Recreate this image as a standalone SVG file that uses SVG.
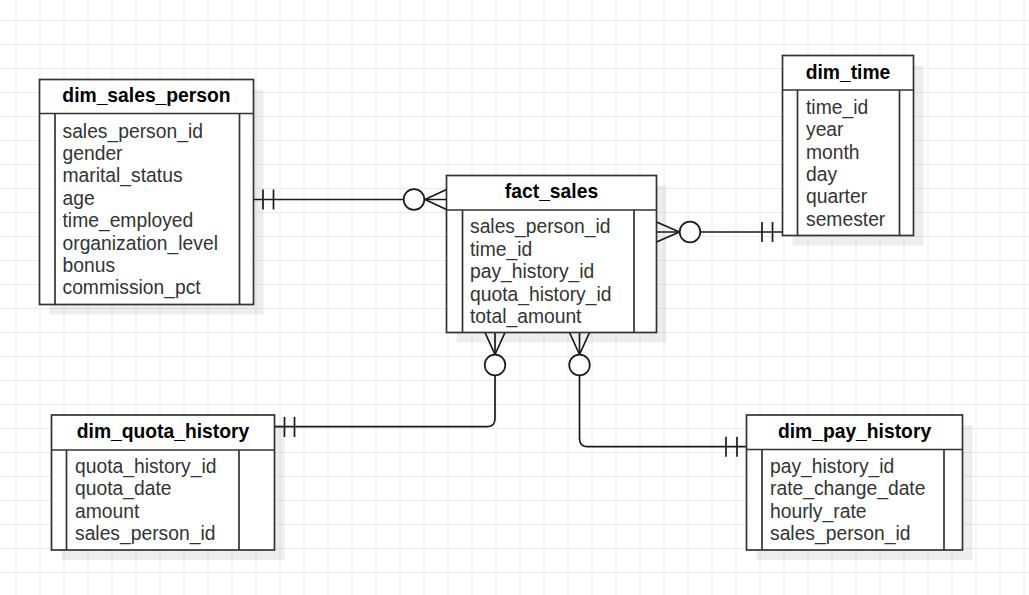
<svg xmlns="http://www.w3.org/2000/svg" width="1029" height="595" viewBox="0 0 1029 595">
<style>
.shadow{fill:#000;fill-opacity:0.065;stroke:none}
.box{fill:#fff;stroke:#333;stroke-width:1.7}
.ln{fill:none;stroke:#333;stroke-width:1.7}
.title{font-family:"Liberation Sans",Arial,sans-serif;font-size:19.3px;font-weight:bold;fill:#000;text-anchor:middle}
.row{font-family:"Liberation Sans",Arial,sans-serif;font-size:19.3px;fill:#333}
.con{fill:none;stroke:#1a1a1a;stroke-width:1.7}
.circ{fill:#fff;stroke:#1a1a1a;stroke-width:1.7}
</style>
<defs>
<pattern id="grid" patternUnits="userSpaceOnUse" x="15.5" y="20" width="24" height="24">
<path d="M0 0.5H24M0.5 0V24" stroke="#ededed" stroke-width="1" fill="none"/>
</pattern>
</defs>
<rect width="1029" height="595" fill="#fff"/>
<rect width="1029" height="595" fill="url(#grid)"/>

<g id="connectors">
<!-- sales_person to fact_sales -->
<path class="con" d="M253.5 199.5H446.5"/>
<path class="con" d="M263 189.5V209.5M273.5 189.5V209.5"/>
<path class="con" d="M446.5 189.5L425 199.5L446.5 209.5"/>
<circle class="circ" cx="414" cy="199.5" r="10.3"/>
<!-- fact_sales to dim_time -->
<path class="con" d="M656.5 232H782.5"/>
<path class="con" d="M762 222V242M772.5 222V242"/>
<path class="con" d="M656.5 222L679.5 232L656.5 242"/>
<circle class="circ" cx="690" cy="232" r="10.3"/>
<!-- fact_sales to dim_quota_history -->
<path class="con" d="M495 332.5V418.5Q495 426.7 487 426.7H274.5"/>
<path class="con" d="M284.5 417V437M294.5 417V437"/>
<path class="con" d="M485 332.5L495 354.5L505 332.5"/>
<circle class="circ" cx="495" cy="365" r="10.3"/>
<!-- fact_sales to dim_pay_history -->
<path class="con" d="M579.5 332.5V438.5Q579.5 446.7 587.5 446.7H746.5"/>
<path class="con" d="M726 436.7V456.7M737 436.7V456.7"/>
<path class="con" d="M569.5 332.5L579.5 354.5L589.5 332.5"/>
<circle class="circ" cx="579.5" cy="365" r="10.3"/>
</g>

<g id="dim_sales_person">
<rect class="shadow" x="49.5" y="89.5" width="214" height="225"/>
<rect class="box" x="39.5" y="79.5" width="214" height="225"/>
<path class="ln" d="M39.5 113.5H253.5M55 113.5V304.5M239.5 113.5V304.5"/>
<text class="title" x="146.5" y="102">dim_sales_person</text>
<text class="row" x="62.5" y="137.5">sales_person_id</text>
<text class="row" x="62.5" y="159.9">gender</text>
<text class="row" x="62.5" y="182.3">marital_status</text>
<text class="row" x="62.5" y="204.7">age</text>
<text class="row" x="62.5" y="227.1">time_employed</text>
<text class="row" x="62.5" y="249.5">organization_level</text>
<text class="row" x="62.5" y="271.9">bonus</text>
<text class="row" x="62.5" y="294.3">commission_pct</text>
</g>

<g id="fact_sales">
<rect class="shadow" x="456.5" y="185.5" width="210" height="157"/>
<rect class="box" x="446.5" y="175.5" width="210" height="157"/>
<path class="ln" d="M446.5 210H656.5M462.5 210V332.5M634 210V332.5"/>
<text class="title" x="551.5" y="198">fact_sales</text>
<text class="row" x="470" y="233.4">sales_person_id</text>
<text class="row" x="470" y="255.8">time_id</text>
<text class="row" x="470" y="278.2">pay_history_id</text>
<text class="row" x="470" y="300.6">quota_history_id</text>
<text class="row" x="470" y="323">total_amount</text>
</g>

<g id="dim_time">
<rect class="shadow" x="792.5" y="65.5" width="131" height="180"/>
<rect class="box" x="782.5" y="55.5" width="131" height="180"/>
<path class="ln" d="M782.5 90H913.5M797.5 90V235.5M899.5 90V235.5"/>
<text class="title" x="848" y="78.5">dim_time</text>
<text class="row" x="806" y="114">time_id</text>
<text class="row" x="806" y="136.3">year</text>
<text class="row" x="806" y="158.6">month</text>
<text class="row" x="806" y="180.9">day</text>
<text class="row" x="806" y="203.2">quarter</text>
<text class="row" x="806" y="225.5">semester</text>
</g>

<g id="dim_quota_history">
<rect class="shadow" x="61.5" y="425" width="223" height="135"/>
<rect class="box" x="51.5" y="415" width="223" height="135"/>
<path class="ln" d="M51.5 450H274.5M66.5 450V550M239 450V550"/>
<text class="title" x="163" y="438">dim_quota_history</text>
<text class="row" x="75" y="473">quota_history_id</text>
<text class="row" x="75" y="495.4">quota_date</text>
<text class="row" x="75" y="517.8">amount</text>
<text class="row" x="75" y="540.2">sales_person_id</text>
</g>

<g id="dim_pay_history">
<rect class="shadow" x="756.5" y="425" width="216" height="135"/>
<rect class="box" x="746.5" y="415" width="216" height="135"/>
<path class="ln" d="M746.5 449.5H962.5M762 449.5V550M944 449.5V550"/>
<text class="title" x="854.5" y="438">dim_pay_history</text>
<text class="row" x="770" y="473">pay_history_id</text>
<text class="row" x="770" y="495.4">rate_change_date</text>
<text class="row" x="770" y="517.8">hourly_rate</text>
<text class="row" x="770" y="540.2">sales_person_id</text>
</g>
</svg>
